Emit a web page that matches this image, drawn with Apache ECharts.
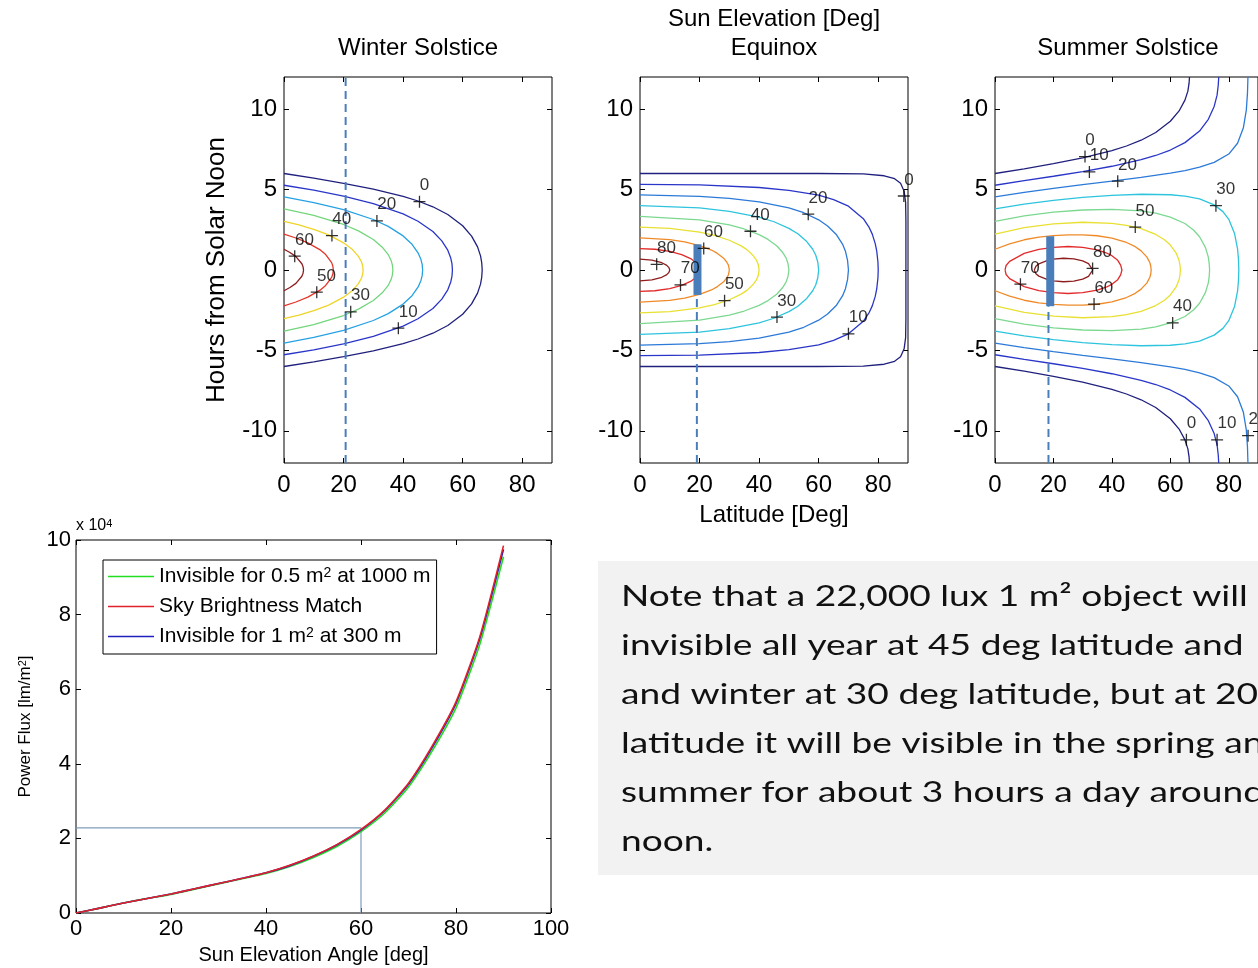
<!DOCTYPE html>
<html>
<head>
<meta charset="utf-8">
<script src="https://cdn.jsdelivr.net/npm/echarts@6.0.0/dist/echarts.min.js"></script>
<style>
  html, body { margin: 0; padding: 0; background: #fff; }
  #main { width: 1258px; height: 968px; }
</style>
</head>
<body>
<div id="main"></div>
<script>
// iso-elevation lines, upper half only: [latitude deg, hours from noon]
// a line ending at hour 0 closes on its mirror, otherwise it runs off the top
const winterLevels = [0, 10, 20, 30, 40, 50, 60];
const winterLines = [
  [[0,6],[10,5.71],[20,5.39],[30,5.03],[40,4.58],[45,4.29],[50,3.93],[55,3.45],[60,2.75],[63,2.11],[65,1.44],[66,0.88],[66.4,0.45],[66.56,0]],
  [[0,5.27],[10,4.96],[20,4.6],[30,4.13],[40,3.49],[45,3.03],[50,2.39],[53,1.81],[55,1.23],[56,0.74],[56.4,0.4],[56.56,0]],
  [[0,4.54],[10,4.19],[20,3.75],[30,3.14],[35,2.71],[40,2.12],[43,1.6],[45,1.07],[46,0.65],[46.4,0.35],[46.56,0]],
  [[0,3.8],[10,3.4],[20,2.83],[25,2.43],[30,1.9],[33,1.42],[35,0.96],[36,0.58],[36.4,0.3],[36.56,0]],
  [[0,3.03],[5,2.81],[10,2.53],[15,2.18],[20,1.69],[23,1.27],[25,0.85],[26,0.51],[26.4,0.28],[26.56,0]],
  [[0,2.23],[4,1.99],[8,1.69],[12,1.27],[14,0.96],[16,0.46],[16.4,0.25],[16.56,0]],
  [[0,1.29],[2,1.09],[4,0.83],[6,0.39],[6.4,0.2],[6.56,0]]
];
const winterLabels = [[45.5,4.25,'0'],[38.4,-3.62,'10'],[31.2,3.05,'20'],[22.4,-2.6,'30'],[16.1,2.14,'40'],[11,-1.38,'50'],[3.6,0.86,'60']];

const equinoxLevels = [0, 10, 20, 30, 40, 50, 60, 70, 80];
const equinoxLines = [
  [[0,6],[60,6],[75,5.98],[82,5.86],[85.5,5.68],[87.5,5.4],[88.7,4.9],[89.2,4.2],[89.3,3],[89.3,0]],
  [[0,5.33],[20,5.29],[40,5.13],[50,4.95],[60,4.65],[65,4.38],[70,3.97],[75,3.19],[77,2.63],[78,2.23],[79,1.64],[79.5,1.18],[79.9,0.5],[80,0]],
  [[0,4.67],[20,4.58],[30,4.45],[40,4.23],[50,3.86],[55,3.56],[60,3.12],[63,2.74],[66,2.19],[68,1.61],[69,1.16],[69.7,0.6],[70,0]],
  [[0,4],[20,3.86],[30,3.65],[40,3.29],[45,3],[50,2.59],[53,2.25],[56,1.77],[58,1.29],[59,0.93],[59.7,0.5],[60,0]],
  [[0,3.33],[20,3.12],[30,2.81],[35,2.55],[40,2.2],[43,1.9],[46,1.49],[48,1.07],[49,0.77],[49.7,0.4],[50,0]],
  [[0,2.67],[10,2.59],[20,2.36],[25,2.15],[30,1.85],[34,1.5],[36,1.25],[38,0.9],[39,0.65],[39.7,0.35],[40,0]],
  [[0,2],[10,1.89],[15,1.75],[20,1.52],[24,1.24],[26,1.03],[28,0.75],[29,0.53],[29.7,0.3],[30,0]],
  [[0,1.33],[5,1.29],[10,1.16],[14,0.96],[17,0.71],[19,0.43],[19.7,0.25],[20,0]],
  [[0,0.67],[4,0.61],[7,0.48],[9,0.29],[9.7,0.15],[10,0]]
];
const equinoxLabels = [[5.6,0.35,'80'],[13.6,-0.93,'70'],[21.4,1.34,'60'],[28.4,-1.91,'50'],[37.1,2.41,'40'],[46,-2.93,'30'],[56.5,3.47,'20'],[70,-3.97,'10'],[88.6,4.6,'0']];

const summerLevels = [0, 10, 20, 30, 40, 50, 60, 70, 80];
const summerLines = [
  [[0,6],[10,6.29],[20,6.61],[30,6.97],[40,7.42],[45,7.71],[50,8.07],[55,8.55],[60,9.25],[63,9.89],[65,10.56],[66,11.12],[66.4,11.6],[66.56,12]],
  [[0,5.27],[10,5.56],[20,5.83],[30,6.12],[40,6.45],[50,6.86],[55,7.12],[60,7.46],[65,7.92],[70,8.64],[73,9.37],[75,10.17],[76,10.87],[76.4,11.5],[76.56,12]],
  [[0,4.54],[10,4.83],[20,5.08],[30,5.31],[40,5.53],[50,5.76],[60,6.02],[65,6.18],[70,6.39],[75,6.69],[80,7.21],[83,7.88],[85,8.85],[86,9.94],[86.4,11],[86.56,12]],
  [[0,3.8],[10,4.1],[20,4.33],[30,4.51],[40,4.64],[50,4.71],[60,4.68],[65,4.59],[70,4.42],[75,4.05],[78,3.63],[80,3.15],[82,2.25],[83,1.32],[83.3,0.7],[83.44,0]],
  [[0,3.03],[10,3.37],[20,3.6],[30,3.73],[40,3.77],[50,3.67],[55,3.53],[60,3.29],[65,2.89],[68,2.47],[70,2.07],[72,1.41],[73,0.8],[73.3,0.4],[73.44,0]],
  [[0,2.23],[10,2.64],[20,2.87],[30,2.97],[40,2.9],[45,2.78],[50,2.57],[55,2.21],[58,1.88],[60,1.55],[62,1.05],[63,0.59],[63.3,0.3],[63.44,0]],
  [[0,1.29],[5,1.63],[10,1.88],[15,2.04],[20,2.14],[25,2.19],[30,2.19],[35,2.13],[40,1.98],[45,1.71],[48,1.45],[50,1.19],[52,0.8],[53,0.45],[53.3,0.25],[53.44,0]],
  [[3.44,0],[3.8,0.28],[5,0.54],[10,1.03],[15,1.28],[20,1.41],[25,1.46],[30,1.41],[35,1.25],[38,1.07],[40,0.89],[42,0.6],[43,0.3],[43.44,0]],
  [[13.44,0],[14,0.24],[15,0.38],[18,0.6],[20,0.68],[23.44,0.73],[27,0.69],[30,0.57],[32,0.4],[33.44,0]]
];
const summerLabels = [[30.8,7.05,'0'],[32.3,6.1,'10'],[42,5.52,'20'],[75.6,4.0,'30'],[48,2.67,'50'],[33.4,0.1,'80'],[8.7,-0.88,'70'],[33.9,-2.12,'60'],[60.8,-3.29,'40'],[65.5,-10.56,'0'],[76,-10.56,'10'],[86.6,-10.3,'20']];

// observer latitude marks: dashed line, and the visible window bar
const markLat = [20.7, 19.1, 18.3];
const barLat = [null, 19.3, 18.9];
const barTop = [null, 1.6, 2.1];
const barBottom = [null, -1.55, -2.25];

const latTicks = [0, 20, 40, 60, 80];
const hourTicks = [-10, -5, 0, 5, 10];

// lower panel: power flux vs sun elevation
const elevation = [0,5,10,15,20,25,30,35,40,45,50,55,60,65,70,75,80,85,90];
const fluxGreen = [0,1300,2700,3900,5000,6400,7800,9200,10600,12500,14900,17900,21800,26800,33800,43500,55000,72000,95500];
const fluxRed   = [0,1300,2700,3900,5100,6500,7900,9300,10800,12800,15300,18400,22400,27600,34800,44800,56600,74000,98500];
const fluxBlue  = [0,1300,2700,3900,5100,6500,7900,9300,10800,12700,15200,18300,22200,27400,34500,44400,56200,73500,97500];
const refElevation = 60;
const refFlux = 22800;

const noteLines = [
  'Note that a 22,000 lux 1 m\u00b2 object will',
  'invisible all year at 45 deg latitude and',
  'and winter at 30 deg latitude, but at 20',
  'latitude it will be visible in the spring and',
  'summer for about 3 hours a day around',
  'noon.'
];

const winterColors = ['#20207e','#2a36c8','#26a2e4','#74d67c','#eed42a','#e2362a','#8e1e1e'];
const jetColors = ['#20207e','#2a36c8','#2c7ad8','#2ec4de','#7cd890','#e8e032','#f08a28','#e22a2a','#8e1e1e'];

const font = 'Liberation Sans, Arial, sans-serif';
const markBlue = '#4a7ebb';

const myChart = echarts.init(document.getElementById('main'));

const grids = [
  { left: 284, top: 77, width: 268, height: 386 },
  { left: 640, top: 77, width: 268, height: 386 },
  { left: 995, top: 77, width: 268, height: 386 },
  { left: 76, top: 540, width: 475, height: 373 }
];

const xAxes = [];
const yAxes = [];
grids.forEach((g, i) => {
  const flux = i === 3;
  const xr = flux ? [0, 100, 20] : [0, 90, undefined];
  const yr = flux ? [0, 100000, 20000] : [-12, 12, undefined];
  const fs = flux ? 22 : 24;
  const tickValsX = flux ? undefined : latTicks;
  const tickValsY = flux ? undefined : hourTicks;
  const tick = vals => ({ show: true, inside: true, length: 5, lineStyle: { color: '#000' }, customValues: vals });
  xAxes.push({
    type: 'value', gridIndex: i, position: 'bottom', min: xr[0], max: xr[1], interval: xr[2],
    axisLine: { show: false, onZero: false },
    axisTick: tick(tickValsX),
    axisLabel: { show: true, color: '#000', fontSize: fs, fontFamily: font, margin: flux ? 5 : 10, customValues: tickValsX },
    splitLine: { show: false },
    name: flux ? 'Sun Elevation Angle [deg]' : (i === 1 ? 'Latitude [Deg]' : ''),
    nameLocation: 'middle', nameGap: flux ? 32 : 40,
    nameTextStyle: { color: '#000', fontSize: flux ? 20 : 24, fontFamily: font }
  });
  xAxes.push({
    type: 'value', gridIndex: i, position: 'top', min: xr[0], max: xr[1], interval: xr[2],
    axisLine: { show: false, onZero: false },
    axisTick: tick(tickValsX),
    axisLabel: { show: false }, splitLine: { show: false }
  });
  yAxes.push({
    type: 'value', gridIndex: i, position: 'left', min: yr[0], max: yr[1], interval: yr[2],
    axisLine: { show: false, onZero: false },
    axisTick: tick(tickValsY),
    axisLabel: {
      show: true, color: '#000', fontSize: fs, fontFamily: font, margin: flux ? 5 : 7, customValues: tickValsY,
      formatter: flux ? (v => String(v / 10000)) : (v => String(v))
    },
    splitLine: { show: false },
    name: flux ? 'Power Flux [lm/m{sup|2}]' : (i === 0 ? 'Hours from Solar Noon' : ''),
    nameLocation: 'middle', nameGap: flux ? 42 : 54,
    nameTextStyle: {
      color: '#000', fontSize: flux ? 17 : 26, fontFamily: font,
      rich: { sup: { fontSize: 11, fontFamily: font, color: '#000', verticalAlign: 'top' } }
    }
  });
  yAxes.push({
    type: 'value', gridIndex: i, position: 'right', min: yr[0], max: yr[1], interval: yr[2],
    axisLine: { show: false, onZero: false },
    axisTick: tick(tickValsY),
    axisLabel: { show: false }, splitLine: { show: false }
  });
});

function contourSeries(lines, colors, g) {
  const out = [];
  lines.forEach((pts, i) => {
    const mirror = pts.map(p => [p[0], -p[1]]);
    const closed = pts[pts.length - 1][1] === 0;
    const paths = closed ? [pts.concat(mirror.slice().reverse())] : [pts, mirror];
    paths.forEach(d => out.push({
      type: 'line', xAxisIndex: 2 * g, yAxisIndex: 2 * g, data: d,
      symbol: 'none', silent: true, animation: false,
      lineStyle: { color: colors[i], width: 1.3 }, z: 2
    }));
  });
  return out;
}

function labelSeries(labels, g) {
  return {
    type: 'scatter', xAxisIndex: 2 * g, yAxisIndex: 2 * g, silent: true, animation: false,
    symbol: 'path://M0,6L12,6M6,0L6,12', symbolSize: 12,
    itemStyle: { color: 'rgba(0,0,0,0)', borderColor: '#000', borderWidth: 1.3 },
    label: {
      show: true, formatter: '{b}', position: [7, -1], align: 'left', verticalAlign: 'bottom',
      color: '#000', fontSize: 17, fontFamily: font
    },
    data: labels.map(l => ({ value: [l[0], l[1]], name: l[2] })),
    z: 5
  };
}

function markSeries(g) {
  const out = [];
  const dashEnd = barBottom[g] === null ? 12 : barBottom[g];
  out.push({
    type: 'line', xAxisIndex: 2 * g, yAxisIndex: 2 * g, symbol: 'none', silent: true, animation: false,
    data: [[markLat[g], -12], [markLat[g], dashEnd]],
    lineStyle: { color: markBlue, width: 2, type: [8, 5] }, z: 4
  });
  if (barLat[g] !== null) {
    out.push({
      type: 'line', xAxisIndex: 2 * g, yAxisIndex: 2 * g, symbol: 'none', silent: true, animation: false,
      data: [[barLat[g], barBottom[g]], [barLat[g], barTop[g]]],
      lineStyle: { color: markBlue, width: 8, cap: 'butt' }, z: 4
    });
  }
  return out;
}

const series = [].concat(
  contourSeries(winterLines, winterColors, 0),
  contourSeries(equinoxLines, jetColors, 1),
  contourSeries(summerLines, jetColors, 2),
  markSeries(0), markSeries(1), markSeries(2),
  [labelSeries(winterLabels, 0), labelSeries(equinoxLabels, 1), labelSeries(summerLabels, 2)]
);

const fluxNames = ['Invisible for 0.5 m2 at 1000 m', 'Sky Brightness Match', 'Invisible for 1 m2 at 300 m'];
const fluxData = [fluxGreen, fluxRed, fluxBlue];
const fluxColors = ['#22dd22', '#e0202a', '#2020c0'];
const fluxZ = [3, 5, 4];
series.push({
  type: 'line', xAxisIndex: 6, yAxisIndex: 6, symbol: 'none', silent: true, animation: false,
  data: [[0, refFlux], [refElevation, refFlux], [refElevation, 0]],
  lineStyle: { color: '#7f9dbb', width: 1.2 }, z: 2
});
fluxNames.forEach((n, i) => {
  series.push({
    name: n, type: 'line', xAxisIndex: 6, yAxisIndex: 6, symbol: 'none', silent: true, animation: false,
    smooth: 0.2,
    data: elevation.map((e, k) => [e, fluxData[i][k]]),
    lineStyle: { color: fluxColors[i], width: 1.6 }, itemStyle: { color: fluxColors[i] }, z: fluxZ[i]
  });
});

const graphic = [
  { type: 'text', x: 418, y: 48, style: { text: 'Winter Solstice', font: '24px ' + font, fill: '#000', textAlign: 'center', textVerticalAlign: 'middle' } },
  { type: 'text', x: 774, y: 19, style: { text: 'Sun Elevation [Deg]', font: '24px ' + font, fill: '#000', textAlign: 'center', textVerticalAlign: 'middle' } },
  { type: 'text', x: 774, y: 48, style: { text: 'Equinox', font: '24px ' + font, fill: '#000', textAlign: 'center', textVerticalAlign: 'middle' } },
  { type: 'text', x: 1128, y: 48, style: { text: 'Summer Solstice', font: '24px ' + font, fill: '#000', textAlign: 'center', textVerticalAlign: 'middle' } },
  {
    type: 'text', x: 76, y: 526,
    style: {
      text: 'x 10{s|4}', font: '16px ' + font, fill: '#000', textVerticalAlign: 'middle',
      rich: { s: { fontSize: 11, fontFamily: font, fill: '#000', verticalAlign: 'top' } }
    }
  },
  { type: 'rect', shape: { x: 598, y: 561, width: 700, height: 314 }, style: { fill: '#f2f2f2' }, z: -1 }
];
noteLines.forEach((t, i) => {
  graphic.push({
    type: 'text', x: 621, y: 597 + i * 49, scaleX: 1.28,
    style: { text: t, font: '29px Lato, "Open Sans", sans-serif', fill: '#111', textVerticalAlign: 'middle' }
  });
});

const option = {
  backgroundColor: '#fff',
  animation: false,
  grid: grids.map(g => Object.assign({ show: true, borderColor: '#000', borderWidth: 1, backgroundColor: '#fff' }, g)),
  xAxis: xAxes,
  yAxis: yAxes,
  legend: {
    orient: 'vertical', left: 103, top: 560,
    icon: 'rect', itemWidth: 46, itemHeight: 1.6, itemGap: 9,
    padding: [6, 6, 7, 5],
    borderColor: '#000', borderWidth: 1, backgroundColor: '#fff',
    selectedMode: false,
    data: fluxNames,
    formatter: n => n.replace('m2', 'm{sup|2}'),
    textStyle: {
      color: '#000', fontSize: 21, fontFamily: font,
      rich: { sup: { fontSize: 14, fontFamily: font, color: '#000', verticalAlign: 'top' } }
    }
  },
  graphic: graphic,
  series: series
};
myChart.setOption(option);
</script>
</body>
</html>
